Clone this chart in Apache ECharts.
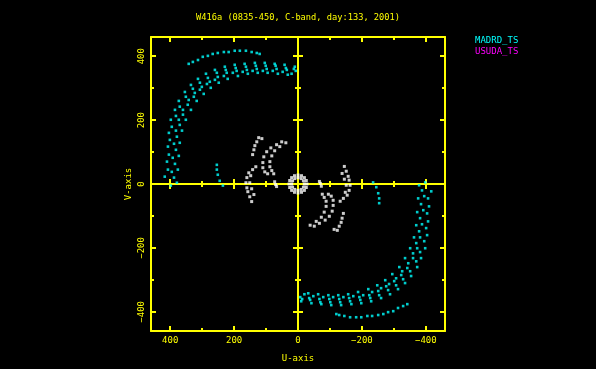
<!DOCTYPE html>
<html>
<head>
<meta charset="utf-8">
<script src="https://cdn.jsdelivr.net/npm/echarts@6/dist/echarts.min.js"></script>
<style>
html,body{margin:0;padding:0;background:#000;}
#chart{width:596px;height:369px;}
</style>
</head>
<body>
<div id="chart"></div>
<script>
// ---------- data (u, v in kilo-lambda) ----------
const titleText = 'W416a (0835-450, C-band, day:133, 2001)';
const legendNames = ['MADRD_TS', 'USUDA_TS'];
const majorTicks = [-400, -200, 0, 200, 400];
const minorTicks = [-300, -100, 100, 300];
const centerMajorTicks = [-400, -200, 200, 400];

// MADRD_TS (cyan) - upper-left tracks
const madArcU = [342,329,313,298,282,267,251,232,217,198,182,163,145,129,120];
const madArcV = [376,382,388,398,401,407,410,413,413,417,417,417,413,410,407];
const madOuterU = [417,410,407,404,398,385,373,354,335,313,288,260,229,198,167,135,104,73,42,10];
const madOuterV = [23,70,117,160,201,232,260,288,310,329,345,357,367,373,376,379,379,376,373,367];
const madOuter2U = [407,404,401,395,382,370,351,329,307,282,254,226,195,163,132,101,70,38,13];
const madOuter2V = [45,92,138,179,213,242,273,298,317,332,348,357,363,367,370,370,370,363,360];
const madMidU = [398,395,392,388,382,373,360,342,323,301,276,251,223,192,160,129,98,67,35,7];
const madMidV = [-5,38,82,126,167,201,232,263,285,304,320,335,348,354,357,360,360,360,357,354];
const madInner2U = [388,385,382,379,370,360,345,326,307,285,260,232,204,173,142,110,79,48,20];
const madInner2V = [20,63,107,148,185,217,248,273,295,313,326,338,348,351,354,354,354,351,345];
const madInnerU = [379,376,373,370,363,351,335,317,295,273,248,220,188,157,126,95,63,32];
const madInnerV = [4,45,88,129,167,201,232,260,282,301,317,329,338,345,348,348,345,342];
const madShortU = [254,254,251,245,235];
const madShortV = [60,45,29,10,-5];
// MADRD_TS (cyan) - lower-right (conjugate) tracks
const madArcCU = [-342,-329,-313,-298,-282,-267,-251,-232,-217,-198,-182,-163,-145,-129,-120];
const madArcCV = [-376,-382,-388,-398,-401,-407,-410,-413,-413,-417,-417,-417,-413,-410,-407];
const madOuterCU = [-417,-410,-407,-404,-398,-385,-373,-354,-335,-313,-288,-260,-229,-198,-167,-135,-104,-73,-42,-10];
const madOuterCV = [-23,-70,-117,-160,-201,-232,-260,-288,-310,-329,-345,-357,-367,-373,-376,-379,-379,-376,-373,-367];
const madOuter2CU = [-407,-404,-401,-395,-382,-370,-351,-329,-307,-282,-254,-226,-195,-163,-132,-101,-70,-38,-13];
const madOuter2CV = [-45,-92,-138,-179,-213,-242,-273,-298,-317,-332,-348,-357,-363,-367,-370,-370,-370,-363,-360];
const madMidCU = [-398,-395,-392,-388,-382,-373,-360,-342,-323,-301,-276,-251,-223,-192,-160,-129,-98,-67,-35,-7];
const madMidCV = [5,-38,-82,-126,-167,-201,-232,-263,-285,-304,-320,-335,-348,-354,-357,-360,-360,-360,-357,-354];
const madInner2CU = [-388,-385,-382,-379,-370,-360,-345,-326,-307,-285,-260,-232,-204,-173,-142,-110,-79,-48,-20];
const madInner2CV = [-20,-63,-107,-148,-185,-217,-248,-273,-295,-313,-326,-338,-348,-351,-354,-354,-354,-351,-345];
const madInnerCU = [-379,-376,-373,-370,-363,-351,-335,-317,-295,-273,-248,-220,-188,-157,-126,-95,-63,-32];
const madInnerCV = [-4,-45,-88,-129,-167,-201,-232,-260,-282,-301,-317,-329,-338,-345,-348,-348,-345,-342];
const madShortCU = [-254,-254,-251,-245,-235];
const madShortCV = [-60,-45,-29,-10,5];

// other baseline (white) - upper-left tracks
const whA_U = [113,123,129,135,138,142];
const whA_V = [142,145,132,120,107,92];
const whB_U = [132,142,154,160,163,160,157,151,145];
const whB_V = [54,45,35,20,4,-12,-24,-40,-55];
const whC_U = [148,151,145,138];
const whC_V = [26,4,-15,-33];
const whD_U = [51,67,85,98,107,110,110,104,95];
const whD_V = [132,123,113,101,85,67,51,38,32];
const whE_U = [38,57,73,82,88,88,82,76];
const whE_V = [129,117,104,88,70,54,42,32];
const whF_U = [73,70,67];
const whF_V = [7,-2,-8];
// white - lower-right (conjugate) tracks
const whA_CU = [-113,-123,-129,-135,-138,-142];
const whA_CV = [-142,-145,-132,-120,-107,-92];
const whB_CU = [-132,-142,-154,-160,-163,-160,-157,-151,-145];
const whB_CV = [-54,-45,-35,-20,-4,12,24,40,55];
const whC_CU = [-148,-151,-145,-138];
const whC_CV = [-26,-4,15,33];
const whD_CU = [-51,-67,-85,-98,-107,-110,-110,-104,-95];
const whD_CV = [-132,-123,-113,-101,-85,-67,-51,-38,-32];
const whE_CU = [-38,-57,-73,-82,-88,-88,-82,-76];
const whE_CV = [-129,-117,-104,-88,-70,-54,-42,-32];
const whF_CU = [-73,-70,-67];
const whF_CV = [-7,2,8];
// white ring at the centre
const ringOuterU = [28,26,20,11,0,-11,-20,-26,-28,-26,-20,-11,0,11,20,26];
const ringOuterV = [0,11,20,26,28,26,20,11,0,-11,-20,-26,-28,-26,-20,-11];
const ringInnerU = [20,17,10,0,-10,-17,-20,-17,-10,0,10,17];
const ringInnerV = [0,10,17,20,17,10,0,-10,-17,-20,-17,-10];

// ---------- build ----------
function zip(us, vs) { return us.map((u, i) => [u, vs[i]]); }
function collect(pairs) { let out = []; pairs.forEach(p => { out = out.concat(zip(p[0], p[1])); }); return out; }

const madrdData = collect([
  [madArcU, madArcV], [madOuterU, madOuterV], [madOuter2U, madOuter2V], [madMidU, madMidV],
  [madInner2U, madInner2V], [madInnerU, madInnerV], [madShortU, madShortV],
  [madArcCU, madArcCV], [madOuterCU, madOuterCV], [madOuter2CU, madOuter2CV], [madMidCU, madMidCV],
  [madInner2CU, madInner2CV], [madInnerCU, madInnerCV], [madShortCU, madShortCV]
]);
const whiteData = collect([
  [whA_U, whA_V], [whB_U, whB_V], [whC_U, whC_V], [whD_U, whD_V], [whE_U, whE_V], [whF_U, whF_V],
  [whA_CU, whA_CV], [whB_CU, whB_CV], [whC_CU, whC_CV], [whD_CU, whD_CV], [whE_CU, whE_CV], [whF_CU, whF_CV],
  [ringOuterU, ringOuterV], [ringInnerU, ringInnerV]
]);

const YEL = '#ffff00';
const FONT = 'DejaVu Sans Mono';
const fmt = v => (v < 0 ? '\u2212' + Math.abs(v) : String(v));

function axis(dim, o) {
  const a = {
    type: 'value', min: -460, max: 460, gridIndex: 0,
    position: o.pos,
    splitLine: { show: false },
    axisLine: { show: o.line !== false, onZero: !!o.onZero, lineStyle: { color: YEL, width: 2 } },
    axisTick: { show: true, inside: o.inside, length: o.len, customValues: o.ticks, lineStyle: { color: YEL, width: 2 } },
    axisLabel: { show: false },
    z: 1
  };
  if (o.onZero) a.axisLine.onZeroAxisIndex = 0;
  if (dim === 'x') a.inverse = true;
  if (o.labels) {
    a.axisLabel = {
      show: true, customValues: majorTicks, formatter: fmt, color: YEL,
      fontFamily: FONT, fontSize: 9, margin: o.margin, rotate: o.rotate || 0
    };
    a.name = o.name; a.nameLocation = 'middle'; a.nameGap = o.nameGap;
    a.nameTextStyle = { color: YEL, fontFamily: FONT, fontSize: 9 };
  }
  return a;
}

const xAxes = [
  axis('x', { pos: 'bottom', inside: true, len: 5, ticks: majorTicks, labels: true, margin: 5, name: 'U-axis', nameGap: 23 }),
  axis('x', { pos: 'bottom', inside: true, len: 3, ticks: minorTicks, line: false }),
  axis('x', { pos: 'top', inside: true, len: 5, ticks: majorTicks }),
  axis('x', { pos: 'top', inside: true, len: 3, ticks: minorTicks, line: false }),
  axis('x', { pos: 'bottom', inside: true, len: 5, ticks: centerMajorTicks, onZero: true }),
  axis('x', { pos: 'bottom', inside: false, len: 5, ticks: centerMajorTicks, onZero: true }),
  axis('x', { pos: 'bottom', inside: true, len: 3, ticks: minorTicks, onZero: true }),
  axis('x', { pos: 'bottom', inside: false, len: 3, ticks: minorTicks, onZero: true })
];
const yAxes = [
  axis('y', { pos: 'left', inside: true, len: 5, ticks: majorTicks, labels: true, margin: 5, rotate: 90, name: 'V-axis', nameGap: 18 }),
  axis('y', { pos: 'left', inside: true, len: 3, ticks: minorTicks, line: false }),
  axis('y', { pos: 'right', inside: true, len: 5, ticks: majorTicks }),
  axis('y', { pos: 'right', inside: true, len: 3, ticks: minorTicks, line: false }),
  axis('y', { pos: 'left', inside: true, len: 5, ticks: centerMajorTicks, onZero: true }),
  axis('y', { pos: 'left', inside: false, len: 5, ticks: centerMajorTicks, onZero: true }),
  axis('y', { pos: 'left', inside: true, len: 3, ticks: minorTicks, onZero: true }),
  axis('y', { pos: 'left', inside: false, len: 3, ticks: minorTicks, onZero: true })
];

const chart = echarts.init(document.getElementById('chart'), null, { renderer: 'canvas' });
chart.setOption({
  animation: false,
  backgroundColor: '#000000',
  title: {
    text: titleText, left: 'center', top: 8,
    textStyle: { color: YEL, fontFamily: FONT, fontSize: 8.7, fontWeight: 'normal' }
  },
  legend: {
    orient: 'vertical', left: 470, top: 36, padding: 0, itemGap: 2,
    icon: 'none', itemWidth: 0, itemHeight: 9, selectedMode: false,
    textStyle: { fontFamily: FONT, fontSize: 9 },
    data: [
      { name: legendNames[0], textStyle: { color: '#00ffff' } },
      { name: legendNames[1], textStyle: { color: '#ff00ff' } }
    ]
  },
  grid: { left: 151, top: 37, width: 294, height: 294, containLabel: false },
  xAxis: xAxes,
  yAxis: yAxes,
  series: [
    { name: legendNames[0], type: 'scatter', xAxisIndex: 0, yAxisIndex: 0, symbol: 'rect', symbolSize: 2.6,
      itemStyle: { color: '#00ffff' }, data: madrdData, silent: true, z: 3 },
    { name: legendNames[1], type: 'scatter', xAxisIndex: 0, yAxisIndex: 0, symbol: 'rect', symbolSize: 2.6,
      itemStyle: { color: '#ff00ff' }, data: [], silent: true, z: 3 },
    { name: 'other', type: 'scatter', xAxisIndex: 0, yAxisIndex: 0, symbol: 'rect', symbolSize: 3,
      itemStyle: { color: '#ffffff' }, data: whiteData, silent: true, z: 3 }
  ]
});
</script>
</body>
</html>
